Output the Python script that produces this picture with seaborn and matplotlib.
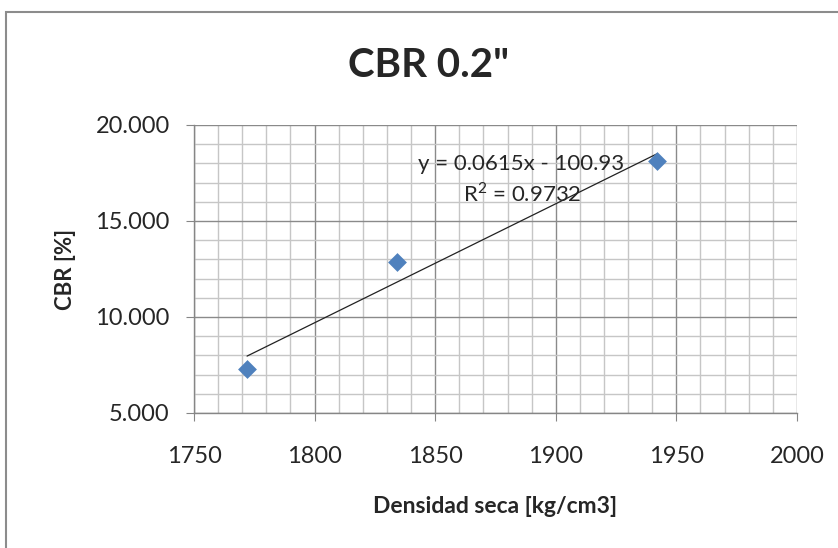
import numpy as np
import pandas as pd
import seaborn as sns
import matplotlib.pyplot as plt
from matplotlib.patches import Rectangle
from matplotlib.ticker import MultipleLocator, FormatStrFormatter

# Data
densidad = [1772, 1834, 1942]
cbr = [7.3, 12.85, 18.12]
eq_text = "y = 0.0615x - 100.93"
r2_text = "R$^2$ = 0.9732"

df = pd.DataFrame({"Densidad": densidad, "CBR": cbr})

sns.set_style("white")
plt.rcParams['font.family'] = ['Lato', 'DejaVu Sans']
plt.rcParams['mathtext.fontset'] = 'custom'
plt.rcParams['mathtext.rm'] = 'Lato'

fig = plt.figure(figsize=(8.38, 5.48), dpi=100)
ax = fig.add_axes([0.2315, 0.2464, 0.7195, 0.5255])

# Outer chart frame (Excel style)
fig.patches.append(Rectangle((6 / 838, -0.1), 1.2, (548 - 12) / 548 + 0.1,
                             transform=fig.transFigure, fill=False,
                             edgecolor='#8c8c8c', linewidth=1.5))

# Trendline and points
sns.regplot(data=df, x="Densidad", y="CBR", ax=ax, scatter=False, ci=None,
            truncate=True, line_kws=dict(color='#222222', linewidth=0.9))
sns.scatterplot(data=df, x="Densidad", y="CBR", ax=ax, marker='D', s=92,
                color='#4F81BD', linewidth=0, zorder=5)

ax.set_xlim(1750, 2000)
ax.set_ylim(5, 20)
ax.xaxis.set_major_locator(MultipleLocator(50))
ax.xaxis.set_minor_locator(MultipleLocator(10))
ax.yaxis.set_major_locator(MultipleLocator(5))
ax.yaxis.set_minor_locator(MultipleLocator(1))
ax.yaxis.set_major_formatter(FormatStrFormatter('%.3f'))

ax.grid(which='major', color='#8a8a8a', linewidth=1.0)
ax.grid(which='minor', color='#c6c6c6', linewidth=1.0)
ax.set_axisbelow(True)

for side in ['top', 'right']:
    ax.spines[side].set_visible(False)
for side in ['left', 'bottom']:
    ax.spines[side].set_color('#868686')
    ax.spines[side].set_linewidth(1.0)

ax.tick_params(which='major', direction='out', length=5.5, color='#868686',
               labelsize=17, bottom=True, left=True)
ax.tick_params(axis='x', pad=18)
ax.tick_params(axis='y', pad=12)
ax.tick_params(which='minor', length=0)

ax.set_xlabel("Densidad seca [kg/cm3]", fontsize=16.5, fontweight='bold', labelpad=21)
ax.set_ylabel("CBR [%]", fontsize=16, fontweight='bold', labelpad=14)
fig.text(0.5113, 0.8595, 'CBR 0.2"', ha='center', va='baseline', fontsize=29, fontweight='bold')

ax.text(1885.8, 17.66, eq_text, ha='center', va='baseline', fontsize=16)
ax.text(1886.2, 15.99, r2_text, ha='center', va='baseline', fontsize=16)

fig.savefig("out.png", dpi=100)
